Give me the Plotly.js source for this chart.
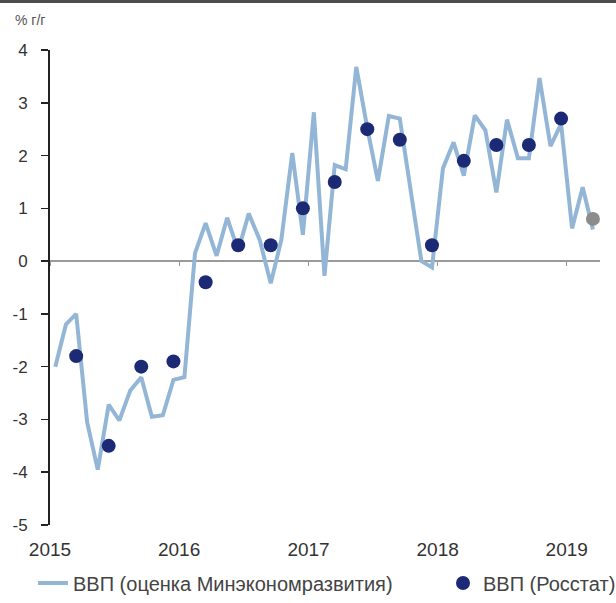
<!DOCTYPE html>
<html>
<head>
<meta charset="utf-8">
<script src="https://cdn.plot.ly/plotly-3.0.1.min.js"></script>
<style>html,body{margin:0;padding:0;background:#fff;}#chart{width:616px;height:603px;}</style>
</head>
<body>
<div id="chart"></div>
<script>
// Monthly GDP estimate (Ministry of Economic Development), Jan 2015 – Mar 2019
const monthDates = [
  '2015-01-16','2015-02-15','2015-03-16','2015-04-16','2015-05-16','2015-06-16','2015-07-16','2015-08-16','2015-09-16','2015-10-16','2015-11-16','2015-12-16',
  '2016-01-16','2016-02-15','2016-03-16','2016-04-16','2016-05-16','2016-06-16','2016-07-16','2016-08-16','2016-09-16','2016-10-16','2016-11-16','2016-12-16',
  '2017-01-16','2017-02-15','2017-03-16','2017-04-16','2017-05-16','2017-06-16','2017-07-16','2017-08-16','2017-09-16','2017-10-16','2017-11-16','2017-12-16',
  '2018-01-16','2018-02-15','2018-03-16','2018-04-16','2018-05-16','2018-06-16','2018-07-16','2018-08-16','2018-09-16','2018-10-16','2018-11-16','2018-12-16',
  '2019-01-16','2019-02-15','2019-03-16'
];
const mineconValues = [
  -2.0, -1.2, -1.0, -3.05, -3.95, -2.72, -3.02, -2.45, -2.2, -2.95, -2.92, -2.25,
  -2.2, 0.15, 0.72, 0.1, 0.82, 0.2, 0.9, 0.4, -0.42, 0.4, 2.05, 0.5,
  2.82, -0.28, 1.82, 1.74, 3.68, 2.52, 1.52, 2.75, 2.7, 1.4, 0.0, -0.12,
  1.76, 2.25, 1.62, 2.76, 2.48, 1.3, 2.68, 1.95, 1.95, 3.47, 2.18, 2.6,
  0.62, 1.4, 0.6
];
// Quarterly GDP (Rosstat), plotted at the last month of each quarter
const quarterDates = [
  '2015-03-16','2015-06-16','2015-09-16','2015-12-16',
  '2016-03-16','2016-06-16','2016-09-16','2016-12-16',
  '2017-03-16','2017-06-16','2017-09-16','2017-12-16',
  '2018-03-16','2018-06-16','2018-09-16','2018-12-16',
  '2019-03-16'
];
const rosstatValues = [
  -1.8, -3.5, -2.0, -1.9,
  -0.4, 0.3, 0.3, 1.0,
  1.5, 2.5, 2.3, 0.3,
  1.9, 2.2, 2.2, 2.7,
  0.8
];
const yearTicks = ['2015-01-01','2016-01-01','2017-01-01','2018-01-01','2019-01-01'];
const yearLabels = ['2015','2016','2017','2018','2019'];
const yTickVals = [-5, -4, -3, -2, -1, 0, 1, 2, 3, 4];
const yTickText = ['-5', '-4', '-3', '-2', '-1', '0', '1', '2', '3', '4'];
const seriesNames = ['ВВП (оценка Минэкономразвития)', 'ВВП (Росстат)'];

const navy = '#1c2a76';
const grey = '#8c8c8c';
const dotColors = rosstatValues.map((v, i) => i === rosstatValues.length - 1 ? grey : navy);

const xRange = ['2015-01-01', '2019-04-05'];
const fam = '"Liberation Sans", Arial, sans-serif';

const traces = [
  {
    x: monthDates, y: mineconValues, type: 'scatter', mode: 'lines',
    name: seriesNames[0], legend: 'legend',
    line: {color: '#93b6d6', width: 4},
    xaxis: 'x', yaxis: 'y', hoverinfo: 'skip'
  },
  {
    x: quarterDates, y: rosstatValues, type: 'scatter', mode: 'markers',
    name: seriesNames[1], legend: 'legend2',
    marker: {color: dotColors, size: 14, line: {width: 0}},
    xaxis: 'x2', yaxis: 'y', hoverinfo: 'skip'
  }
];

const legendFont = {family: fam, size: 20, color: '#444'};

const layout = {
  width: 616, height: 603,
  margin: {l: 50, r: 16, t: 50, b: 78, pad: 0},
  paper_bgcolor: '#fff', plot_bgcolor: '#fff',
  font: {family: fam, size: 15, color: '#333'},
  showlegend: true,
  legend: {
    orientation: 'h', xref: 'container', yref: 'container',
    x: 33/616, xanchor: 'left', y: 1 - 583/603, yanchor: 'middle',
    font: legendFont, bgcolor: 'rgba(0,0,0,0)'
  },
  legend2: {
    orientation: 'h', xref: 'container', yref: 'container',
    x: 443/616, xanchor: 'left', y: 1 - 583/603, yanchor: 'middle',
    font: legendFont, bgcolor: 'rgba(0,0,0,0)'
  },
  xaxis: {
    type: 'date', range: xRange, tickmode: 'array', tickvals: yearTicks, ticktext: yearLabels,
    showgrid: false, zeroline: false, showline: false, ticks: '',
    ticklabelstandoff: 11, tickfont: {family: fam, size: 19, color: '#333'}
  },
  xaxis2: {
    type: 'date', range: xRange, overlaying: 'x', anchor: 'free', position: 5/9,
    tickmode: 'array', tickvals: yearTicks, showticklabels: false,
    ticks: 'outside', ticklen: 4, tickwidth: 1, tickcolor: '#999',
    showgrid: false, zeroline: false, showline: false
  },
  yaxis: {
    range: [-5, 4], tickmode: 'array', tickvals: yTickVals, ticktext: yTickText,
    showgrid: false, zeroline: true, zerolinecolor: '#9a9a9a', zerolinewidth: 2,
    showline: true, linecolor: '#222', linewidth: 2, mirror: false,
    ticks: 'outside', ticklen: 7, tickwidth: 1.5, tickcolor: '#222',
    ticklabelstandoff: 10,
    tickfont: {family: fam, size: 17, color: '#333'}
  },
  annotations: [{
    text: '% г/г', xref: 'paper', yref: 'paper',
    x: -37/550, xanchor: 'left', y: 1 + 30/475, yanchor: 'middle',
    showarrow: false, font: {family: fam, size: 14, color: '#555'}
  }],
  shapes: [{
    type: 'rect', xref: 'paper', yref: 'paper',
    x0: -50/550, x1: 1 + 16/550, y0: 1 + 47/475, y1: 1 + 50/475,
    fillcolor: '#4d4d4d', line: {width: 0}
  }]
};

Plotly.newPlot('chart', traces, layout, {displayModeBar: false, staticPlot: true});
</script>
</body>
</html>
